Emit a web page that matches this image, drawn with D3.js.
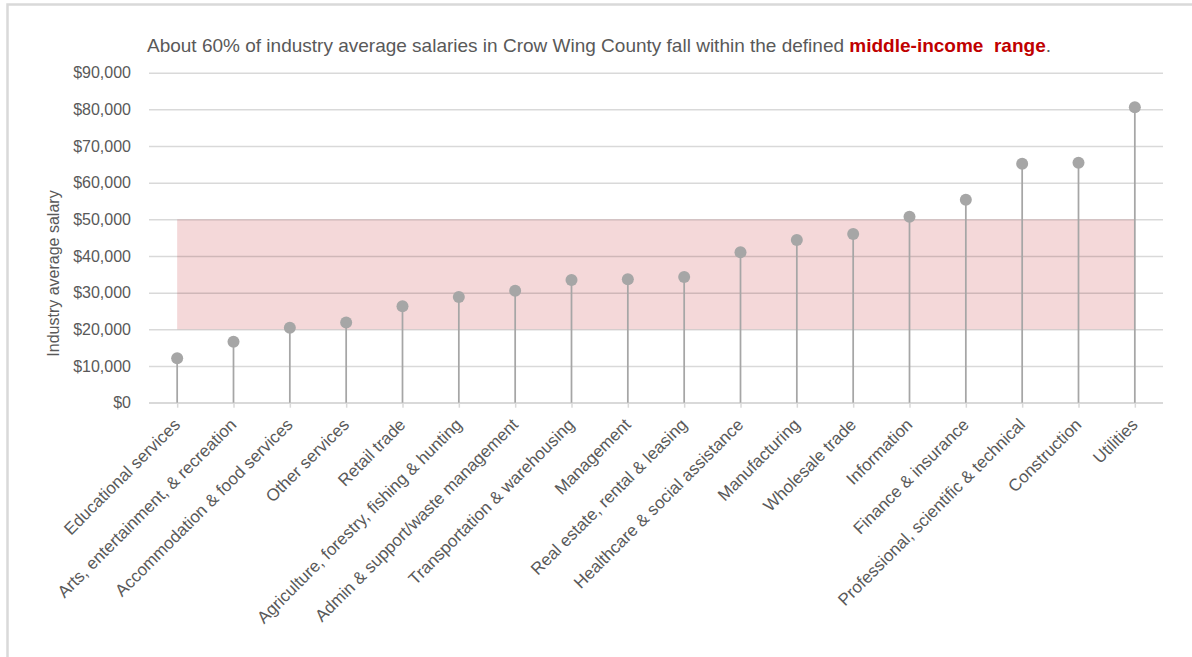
<!DOCTYPE html>
<html><head><meta charset="utf-8">
<script src="https://cdn.jsdelivr.net/npm/d3@7/dist/d3.min.js"></script>
<style>
html,body{margin:0;padding:0;background:#fff;}
svg{display:block;font-family:"Liberation Sans",Arial,sans-serif;}
</style></head>
<body>
<svg id="chart" width="1192" height="657"></svg>
<script>
const categories = ["Educational services","Arts, entertainment, & recreation","Accommodation & food services","Other services","Retail trade","Agriculture, forestry, fishing & hunting","Admin & support/waste management","Transportation & warehousing","Management","Real estate, rental & leasing","Healthcare & social assistance","Manufacturing","Wholesale trade","Information","Finance & insurance","Professional, scientific & technical","Construction","Utilities"];
const salaries = [12100,16600,20450,21900,26300,28800,30550,33450,33650,34300,41000,44400,46000,50700,55350,65200,65450,80550];
const yTicks = [0,10000,20000,30000,40000,50000,60000,70000,80000,90000];
const middleIncome = [20000,50000];
const titleParts = [
  {text:"About 60% of industry average salaries in Crow Wing County fall within the defined ", bold:false},
  {text:"middle-income  range", bold:true},
  {text:".", bold:false}
];
const yAxisTitle = "Industry average salary";

const svg = d3.select("#chart");
const grey = "#595959";

// frame
svg.append("rect").attr("x",7.5).attr("y",4.5).attr("width",1200).attr("height",700)
  .attr("fill","none").attr("stroke","#d9d9d9").attr("stroke-width",2.5);

const pLeft = 149, pRight = 1163, pTop = 72.7, pBottom = 402.7;
const x = d3.scalePoint().domain(categories).range([pLeft,pRight]).padding(0.5);
const y = d3.scaleLinear().domain([0,90000]).range([pBottom,pTop]);

// band
svg.append("rect")
  .attr("x", x(categories[0])).attr("width", x(categories[categories.length-1]) - x(categories[0]))
  .attr("y", y(middleIncome[1])).attr("height", y(middleIncome[0]) - y(middleIncome[1]))
  .attr("fill","#f4d8d9");

// gridlines
const yAxis = d3.axisLeft(y).tickValues(yTicks).tickSize(-(pRight-pLeft)).tickPadding(18)
  .tickFormat(d => "$" + d3.format(",")(d));
const gy = svg.append("g").attr("transform",`translate(${pLeft},0)`).call(yAxis);
gy.select(".domain").remove();
gy.selectAll(".tick line").attr("stroke","rgba(0,0,0,0.15)").attr("stroke-width",1.5);
gy.selectAll(".tick text").attr("fill",grey).attr("font-size",16).attr("font-family","Liberation Sans, Arial, sans-serif");

// x axis
const xAxis = d3.axisBottom(x).tickSize(5).tickFormat("");
const gx = svg.append("g").attr("transform",`translate(0,${pBottom})`).call(xAxis);
gx.select(".domain").attr("stroke","#d9d9d9").attr("stroke-width",1.5).attr("d",`M${pLeft},0H${pRight}`);
gx.selectAll(".tick line").attr("stroke","#d9d9d9").attr("stroke-width",1.5);

// x labels
svg.append("g").selectAll("text").data(categories).join("text")
  .attr("transform", d => `translate(${x(d)+4},${pBottom+23}) rotate(-45)`)
  .attr("text-anchor","end").attr("fill",grey).attr("font-size",17)
  .text(d => d);

// stems
svg.append("g").selectAll("line").data(salaries).join("line")
  .attr("x1",(d,i)=>x(categories[i])).attr("x2",(d,i)=>x(categories[i]))
  .attr("y1",y(0)).attr("y2",d=>y(d))
  .attr("stroke","#a6a6a6").attr("stroke-width",1.75);
// dots
svg.append("g").selectAll("circle").data(salaries).join("circle")
  .attr("cx",(d,i)=>x(categories[i])).attr("cy",d=>y(d)).attr("r",6)
  .attr("fill","#a6a6a6");

// y axis title
svg.append("text").attr("transform",`translate(59,273.5) rotate(-90)`)
  .attr("text-anchor","middle").attr("fill",grey).attr("font-size",16).text(yAxisTitle);

// title
const t = svg.append("text").attr("x",147).attr("y",52).attr("font-size",19).attr("fill",grey)
  .attr("xml:space","preserve").style("white-space","pre");
t.selectAll("tspan").data(titleParts).join("tspan")
  .attr("font-weight",d=>d.bold?"bold":"normal")
  .attr("fill",d=>d.bold?"#c00000":grey)
  .text(d=>d.text);
</script>
</body></html>
